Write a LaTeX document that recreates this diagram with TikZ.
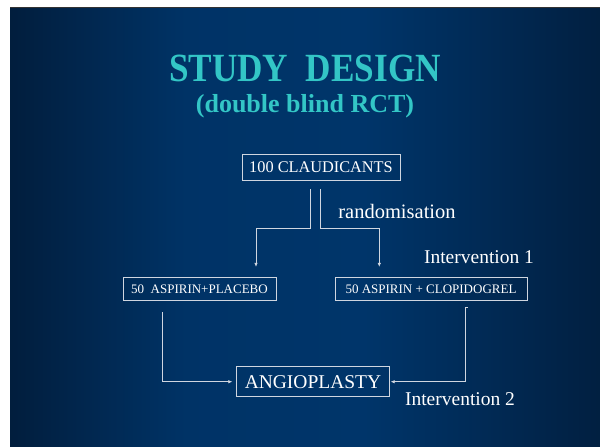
\documentclass[tikz,border=0pt]{standalone}
\usepackage{fontspec}
\setmainfont{Liberation Serif}
\usetikzlibrary{arrows.meta}
\definecolor{edgeblue}{HTML}{020E1F}
\definecolor{midblue}{HTML}{00356A}
\definecolor{titlecol}{HTML}{33C6C6}
\definecolor{linecol}{HTML}{D0D6E0}
\pgfdeclarehorizontalshading{slideshade}{100bp}{%
  color(0bp)=(edgeblue); color(25bp)=(edgeblue!60!midblue); color(40bp)=(midblue!95!edgeblue);
  color(55bp)=(midblue); color(75bp)=(edgeblue!55!midblue); color(100bp)=(edgeblue)}
\tikzset{
  box/.style={draw=linecol, line width=0.8pt, text=white, inner sep=0pt, minimum height=#1},
  box/.default=24pt,
  conn/.style={draw=linecol, line width=0.7pt},
  arr/.style={conn, -{Latex[length=4pt,width=3.5pt]}},
  lbl/.style={text=white, inner sep=0pt, font=\fontsize{19.5}{22}\selectfont},
  titlestyle/.style={text=titlecol, inner sep=0pt},
}
\begin{document}
\begin{tikzpicture}[x=1pt,y=-1pt]
\useasboundingbox (0,0) rectangle (600,447);
\fill[white] (0,0) rectangle (600,447);
\shade[shading=slideshade] (10,7) rectangle (600,447);
\draw[black!80, line width=1pt] (10,7.5) -- (600,7.5);
\node[titlestyle] (title) at (305,68) {\fontsize{40}{44}\bfseries\scalebox{0.88}[1]{STUDY\ \ DESIGN}};
\node[titlestyle] (sub) at (305,106) {\fontsize{26}{30}\bfseries (double blind RCT)};
% boxes
\node[box=26pt, minimum width=158pt, font=\fontsize{16.3}{18}\selectfont] (c100) at (321,167.5) {100 CLAUDICANTS};
\node[box=23.5pt, minimum width=153pt, font=\fontsize{13}{15}\selectfont] (asp) at (199.5,289) {50\ \ ASPIRIN+PLACEBO};
\node[box=23.5pt, minimum width=192pt, font=\fontsize{13}{15}\selectfont] (clop) at (431,289) {50 ASPIRIN + CLOPIDOGREL};
\node[box=30pt, minimum width=152.5pt, font=\fontsize{19.5}{22}\selectfont] (ang) at (313,381.7) {ANGIOPLASTY};
% labels
\node[lbl, font=\fontsize{20.5}{22}\selectfont] (rand) at (397,211) {randomisation};
\node[lbl] (int1) at (479,257) {Intervention 1};
\node[lbl] (int2) at (460,399) {Intervention 2};
% connectors
\coordinate (l0) at (310.7,189);
\coordinate (r0) at (320,189);
\coordinate (lb) at (256,228);
\coordinate (rb) at (379.3,228);
\draw[arr] (l0) |- (lb) -- ([yshift=10pt]lb |- asp.north);
\draw[arr] (r0) |- (rb) -- ([yshift=10pt]rb |- clop.north);
\coordinate (al) at (162.7,312);
\coordinate (cr) at (465.7,307);
\draw[arr] (al) |- ([xshift=-4pt]ang.west);
\draw[conn] (cr) -- ++(2,0);
\draw[arr] (cr) |- ([xshift=1pt]ang.east);
\end{tikzpicture}
\end{document}
